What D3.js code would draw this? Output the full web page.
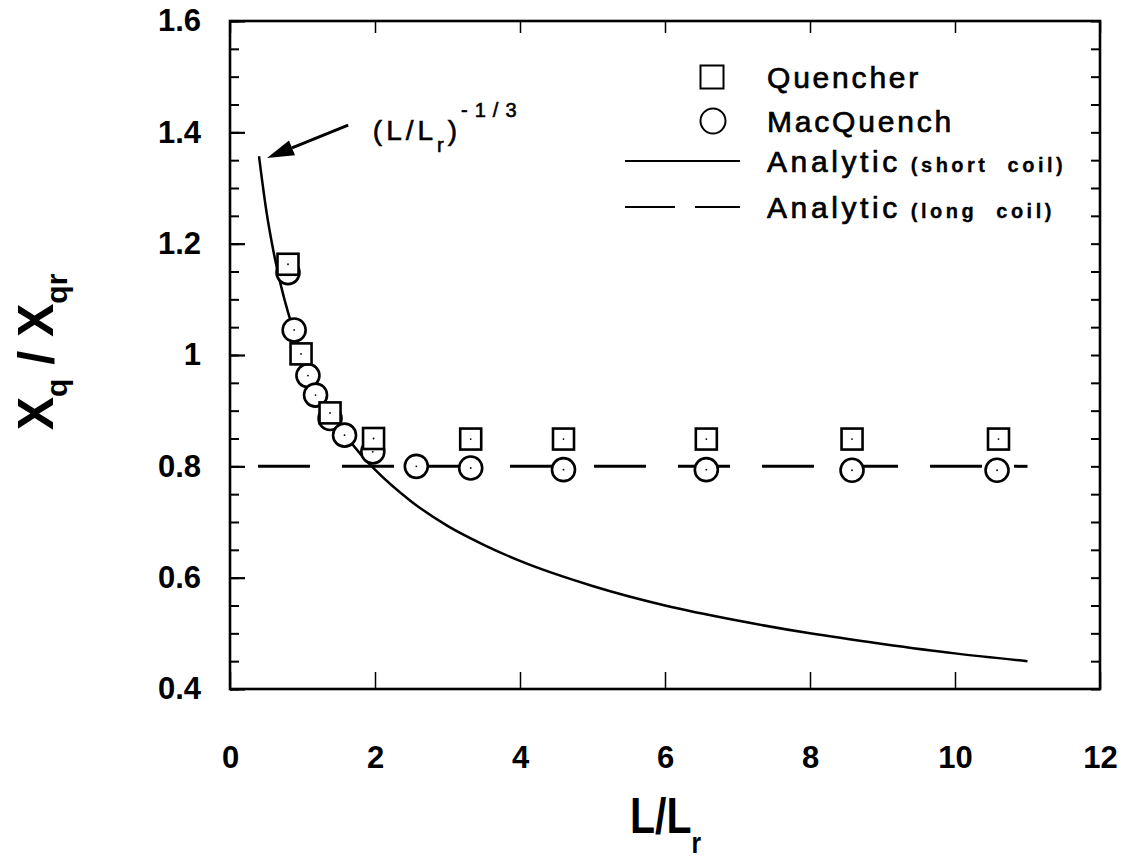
<!DOCTYPE html>
<html>
<head>
<meta charset="utf-8">
<script src="https://cdn.jsdelivr.net/npm/d3@7"></script>
<style>
  html, body { margin: 0; padding: 0; background: #fff; }
  svg { display: block; }
</style>
</head>
<body>
<svg id="chart" width="1131" height="861"></svg>
<script>
// Quencher simulation results
const quencherX = [0.80, 0.98, 1.38, 1.98, 3.32, 4.60, 6.57, 8.58, 10.60];
const quencherY = [1.163, 1.002, 0.896, 0.850, 0.849, 0.849, 0.849, 0.849, 0.849];

// MacQuench simulation results
const macQuenchX = [0.80, 0.885, 1.075, 1.18, 1.38, 1.58, 1.97, 2.57, 3.32, 4.60, 6.57, 8.58, 10.58];
const macQuenchY = [1.148, 1.045, 0.963, 0.928, 0.886, 0.856, 0.826, 0.800, 0.797, 0.794, 0.794, 0.793, 0.793];

// Analytic curve, short coil
const shortCoilX = [0.40, 0.50, 0.60, 0.70, 0.80, 0.90, 1.00, 1.20, 1.40, 1.60, 1.80, 2.00, 2.50, 3.00, 3.50, 4.00, 5.00, 6.00, 7.00, 8.00, 9.00, 10.00, 11.00];
const shortCoilY = [1.357, 1.260, 1.186, 1.126, 1.077, 1.036, 1.000, 0.941, 0.894, 0.855, 0.822, 0.794, 0.737, 0.693, 0.659, 0.630, 0.585, 0.550, 0.523, 0.500, 0.481, 0.464, 0.450];

// Analytic line, long coil
const longCoilX = [0, 11];
const longCoilY = [0.8, 0.8];

// Axis ticks
const xTicks = [0, 2, 4, 6, 8, 10, 12];
const xTickLabels = ["0", "2", "4", "6", "8", "10", "12"];
const yTicks = [0.4, 0.6, 0.8, 1.0, 1.2, 1.4, 1.6];
const yTickLabels = ["0.4", "0.6", "0.8", "1", "1.2", "1.4", "1.6"];

// Legend entries
const legendLabels = ["Quencher", "MacQuench", "Analytic", "Analytic"];
const legendNotes = ["", "", "(short coil)", "(long coil)"];
const legendKinds = ["square", "circle", "solid", "dashed"];

const svg = d3.select("#chart");
const FONT = "'Liberation Sans', Arial, Helvetica, sans-serif";
const box = { left: 230, right: 1100, top: 21, bottom: 689 };

const x = d3.scaleLinear().domain([0, 12]).range([box.left, box.right]);
const y = d3.scaleLinear().domain([0.4, 1.6]).range([box.bottom, box.top]);

function styleAxis(g, width) {
  g.select(".domain").remove();
  g.selectAll(".tick line").attr("stroke", "#000").attr("stroke-width", width);
  g.attr("font-family", FONT);
}

// ---- axes: inward ticks on all four sides ----
const yMinor = y.ticks(24);

svg.append("g")
  .attr("transform", `translate(${box.left},0)`)
  .call(d3.axisLeft(y).tickValues(yMinor).tickSize(-9).tickFormat(""))
  .call(g => styleAxis(g, 2));

svg.append("g")
  .attr("transform", `translate(${box.left},0)`)
  .call(d3.axisLeft(y).tickValues(yTicks).tickSize(-15).tickPadding(29)
    .tickFormat((d, i) => yTickLabels[i]))
  .call(g => styleAxis(g, 2.2))
  .call(g => g.selectAll("text")
    .attr("font-size", 31).attr("font-weight", "bold").attr("fill", "#000"));

svg.append("g")
  .attr("transform", `translate(${box.right},0)`)
  .call(d3.axisRight(y).tickValues(yMinor).tickSize(-9).tickFormat(""))
  .call(g => styleAxis(g, 2));

svg.append("g")
  .attr("transform", `translate(0,${box.top})`)
  .call(d3.axisTop(x).tickValues(xTicks).tickSize(-12).tickFormat(""))
  .call(g => styleAxis(g, 1.5));

svg.append("g")
  .attr("transform", `translate(0,${box.bottom})`)
  .call(d3.axisBottom(x).tickValues(xTicks).tickSize(-17).tickPadding(57)
    .tickFormat((d, i) => xTickLabels[i]))
  .call(g => styleAxis(g, 1.5))
  .call(g => g.selectAll("text")
    .attr("font-size", 31).attr("font-weight", "bold").attr("fill", "#000"));

// plot frame
svg.append("rect")
  .attr("x", box.left).attr("y", box.top)
  .attr("width", box.right - box.left).attr("height", box.bottom - box.top)
  .attr("fill", "none").attr("stroke", "#000").attr("stroke-width", 2.6);

// ---- analytic curves ----
const shortPts = shortCoilX.map((v, i) => [v, shortCoilY[i]]);
const longPts = longCoilX.map((v, i) => [v, longCoilY[i]]);
const line = d3.line().x(d => x(d[0])).y(d => y(d[1])).curve(d3.curveMonotoneX);

svg.append("path")
  .attr("d", line(longPts))
  .attr("fill", "none").attr("stroke", "#000").attr("stroke-width", 3)
  .attr("stroke-dasharray", "52,32").attr("stroke-dashoffset", 56);

svg.append("path")
  .attr("d", line(shortPts))
  .attr("fill", "none").attr("stroke", "#000").attr("stroke-width", 2.5)
  .attr("stroke-linejoin", "round");

// ---- simulation markers ----
const macPts = macQuenchX.map((v, i) => [v, macQuenchY[i]]);
const quenchPts = quencherX.map((v, i) => [v, quencherY[i]]);

const mac = svg.append("g").selectAll("g").data(macPts).join("g")
  .attr("transform", d => `translate(${x(d[0])},${y(d[1])})`);
mac.append("circle").attr("r", 11.5)
  .attr("fill", "#fff").attr("stroke", "#000").attr("stroke-width", 2.6);
mac.append("circle").attr("r", 0.9).attr("fill", "#000");

const sq = 21;
const quench = svg.append("g").selectAll("g").data(quenchPts).join("g")
  .attr("transform", d => `translate(${x(d[0])},${y(d[1])})`);
quench.append("rect").attr("x", -sq / 2).attr("y", -sq / 2)
  .attr("width", sq).attr("height", sq)
  .attr("fill", "#fff").attr("stroke", "#000").attr("stroke-width", 2.6);
quench.append("circle").attr("r", 0.9).attr("fill", "#000");

// ---- annotation with arrow ----
const tip = [x(0.51), y(1.354)];
const tail = [x(1.63), y(1.413)];
const ang = Math.atan2(tip[1] - tail[1], tip[0] - tail[0]);
const headLen = 27, headHalf = 8;
const baseX = tip[0] - headLen * Math.cos(ang), baseY = tip[1] - headLen * Math.sin(ang);
svg.append("line")
  .attr("x1", tail[0]).attr("y1", tail[1]).attr("x2", baseX).attr("y2", baseY)
  .attr("stroke", "#000").attr("stroke-width", 3);
svg.append("path")
  .attr("d", `M${tip[0]},${tip[1]}
    L${baseX + headHalf * Math.sin(ang)},${baseY - headHalf * Math.cos(ang)}
    L${baseX - headHalf * Math.sin(ang)},${baseY + headHalf * Math.cos(ang)}Z`)
  .attr("fill", "#000");

const ann = svg.append("text")
  .attr("x", x(1.97)).attr("y", y(1.386))
  .attr("font-family", FONT).attr("font-size", 28).attr("fill", "#000")
  .attr("stroke", "#000").attr("stroke-width", 0.6)
  .attr("letter-spacing", 4);
ann.append("tspan").text("(L/L");
ann.append("tspan").attr("font-size", 20).attr("dy", 12).text("r");
ann.append("tspan").attr("dy", -12).text(")");
ann.append("tspan").attr("font-size", 20).attr("dy", -23).attr("letter-spacing", 7).text("-1/3");

// ---- legend ----
const legendBaselines = [88, 132, 172, 218];
const legendText = 767;
const legend = svg.append("g");
legendLabels.forEach((label, i) => {
  const base = legendBaselines[i];
  const mid = base - 11;
  const kind = legendKinds[i];
  if (kind === "square") {
    legend.append("rect").attr("x", 712 - 11.5).attr("y", mid - 11.5)
      .attr("width", 23).attr("height", 23)
      .attr("fill", "#fff").attr("stroke", "#000").attr("stroke-width", 2);
  } else if (kind === "circle") {
    legend.append("circle").attr("cx", 713).attr("cy", mid).attr("r", 12.5)
      .attr("fill", "#fff").attr("stroke", "#000").attr("stroke-width", 2);
  } else {
    legend.append("line").attr("x1", 625).attr("x2", 740)
      .attr("y1", mid).attr("y2", mid)
      .attr("stroke", "#000").attr("stroke-width", 2.2)
      .attr("stroke-dasharray", kind === "dashed" ? "50,20" : null);
  }
  const t = legend.append("text")
    .attr("x", legendText).attr("y", base)
    .attr("font-family", FONT).attr("font-size", 30).attr("fill", "#000")
    .attr("stroke", "#000").attr("stroke-width", 0.7)
    .attr("letter-spacing", kind === "solid" || kind === "dashed" ? 3.6 : 2.8);
  t.append("tspan").text(label);
  if (legendNotes[i]) {
    t.append("tspan").attr("dx", 10).attr("font-size", 20).attr("font-weight", "bold")
      .attr("stroke-width", 0.3)
      .attr("letter-spacing", 3.5).attr("word-spacing", 10).text(legendNotes[i]);
  }
});

// ---- axis titles ----
const yTitle = svg.append("text")
  .attr("transform", "translate(53,352) rotate(-90)")
  .attr("text-anchor", "middle")
  .attr("font-family", FONT).attr("font-weight", "bold")
  .attr("font-size", 50).attr("fill", "#000");
yTitle.append("tspan").text("X");
yTitle.append("tspan").attr("font-size", 30).attr("dy", 14).text("q");
yTitle.append("tspan").attr("dy", -14).text(" / X");
yTitle.append("tspan").attr("font-size", 30).attr("dy", 14).text("qr");

const xTitle = svg.append("text")
  .attr("transform", "translate(630,833) scale(0.82,1)")
  .attr("font-family", FONT).attr("font-weight", "bold")
  .attr("font-size", 50).attr("fill", "#000");
xTitle.append("tspan").text("L/L");
xTitle.append("tspan").attr("font-size", 30).attr("dy", 20).text("r");
</script>
</body>
</html>
